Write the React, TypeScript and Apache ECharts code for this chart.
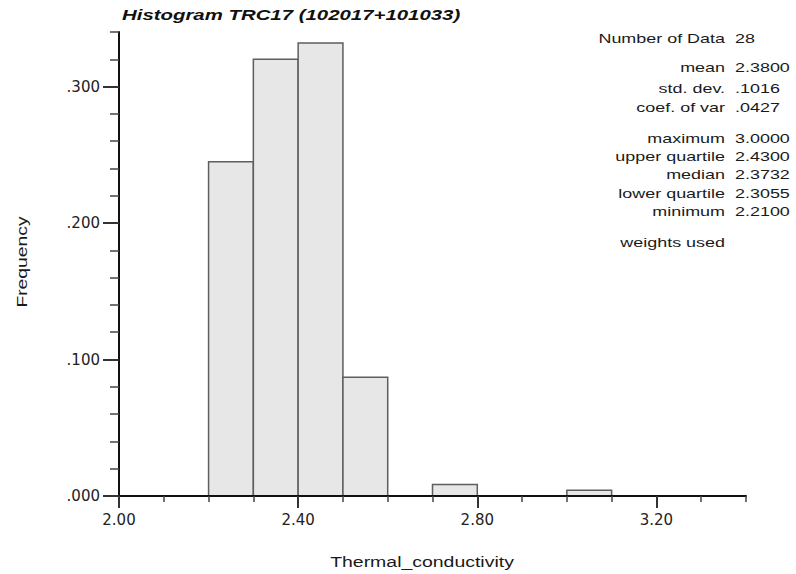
import { useEffect, useRef } from "react";
import * as echarts from "echarts";

// Histogram bins (class limits) and weighted frequencies
const binStarts = [2.2, 2.3, 2.4, 2.5, 2.7, 3.0];
const binEnds = [2.3, 2.4, 2.5, 2.6, 2.8, 3.1];
const frequencies = [0.245, 0.32, 0.332, 0.087, 0.0084, 0.0042];

// Axis ranges and tick steps
const xRange = [2.0, 3.4];
const xLabelRange = [2.0, 3.2];
const xMajorStep = 0.4;
const xMinorStep = 0.1;
const yRange = [0, 0.34];
const yLabelRange = [0, 0.3];
const yMajorStep = 0.1;
const yMinorStep = 0.02;

// Summary statistics
const statNames = [
  "Number of Data",
  "mean",
  "std. dev.",
  "coef. of var",
  "maximum",
  "upper quartile",
  "median",
  "lower quartile",
  "minimum",
];
const statValues = ["28", "2.3800", ".1016", ".0427", "3.0000", "2.4300", "2.3732", "2.3055", "2.2100"];
const weightNote = "weights used";

const titleText = "Histogram TRC17 (102017+101033)";
const xName = "Thermal_conductivity";
const yName = "Frequency";

const W = 796;
const H = 574;
const plotLeft = 119;
const plotRight = 746;
const plotTop = 32;
const plotBottom = 496;

const SANS = '"Liberation Sans", Arial, sans-serif';
const TICK_FONT = '"DejaVu Sans", sans-serif';
const WIDE = 1.38;

const statRowY = [38, 67, 88, 107, 138, 156, 174, 193, 211];
const weightRowY = 242;

export default function App() {
  const ref = useRef<HTMLDivElement>(null);

  useEffect(() => {
    if (!ref.current) return;
    const chart = echarts.init(ref.current, undefined, { renderer: "svg" });

    const plotW = plotRight - plotLeft;
    const plotH = plotBottom - plotTop;
    // second grid carries the labelled major ticks, sharing the same pixel scale
    const labelRight = plotLeft + ((xLabelRange[1] - xRange[0]) / (xRange[1] - xRange[0])) * plotW;
    const labelTop = plotBottom - ((yLabelRange[1] - yRange[0]) / (yRange[1] - yRange[0])) * plotH;

    const data = binStarts.map((s, i) => [s, binEnds[i], frequencies[i]]);

    const statText: any[] = [];
    statNames.forEach((name, i) => {
      statText.push({
        type: "text",
        x: 725,
        y: statRowY[i],
        scaleX: WIDE,
        style: {
          text: name,
          fill: "#1a1a1a",
          fontSize: 13,
          fontFamily: SANS,
          align: "right",
          verticalAlign: "middle",
        },
      });
      statText.push({
        type: "text",
        x: 735,
        y: statRowY[i],
        scaleX: WIDE,
        style: {
          text: statValues[i],
          fill: "#1a1a1a",
          fontSize: 13,
          fontFamily: SANS,
          align: "left",
          verticalAlign: "middle",
        },
      });
    });
    statText.push({
      type: "text",
      x: 725,
      y: weightRowY,
      scaleX: WIDE,
      style: {
        text: weightNote,
        fill: "#1a1a1a",
        fontSize: 13,
        fontFamily: SANS,
        align: "right",
        verticalAlign: "middle",
      },
    });

    const fmtY = (v: number) => v.toFixed(3).replace(/^0/, "");

    chart.setOption({
      animation: false,
      backgroundColor: "#ffffff",
      grid: [
        { left: plotLeft, right: W - plotRight, top: plotTop, bottom: H - plotBottom },
        { left: plotLeft, right: W - labelRight, top: labelTop, bottom: H - plotBottom },
      ],
      xAxis: [
        {
          type: "value",
          gridIndex: 0,
          min: xRange[0],
          max: xRange[1],
          interval: xMinorStep,
          z: 5,
          axisLine: { show: true, lineStyle: { color: "#111", width: 2 } },
          axisTick: { show: true, length: 6, lineStyle: { color: "#444", width: 1.5 } },
          axisLabel: { show: false },
          splitLine: { show: false },
        },
        {
          type: "value",
          gridIndex: 1,
          min: xLabelRange[0],
          max: xLabelRange[1],
          interval: xMajorStep,
          z: 5,
          axisLine: { show: false },
          axisTick: { show: true, length: 12, lineStyle: { color: "#333", width: 2 } },
          axisLabel: {
            show: true,
            margin: 16,
            color: "#222",
            fontSize: 15,
            fontFamily: TICK_FONT,
            formatter: (v: number) => v.toFixed(2),
          },
          splitLine: { show: false },
        },
      ],
      yAxis: [
        {
          type: "value",
          gridIndex: 0,
          min: yRange[0],
          max: yRange[1],
          interval: yMinorStep,
          z: 5,
          axisLine: { show: true, lineStyle: { color: "#111", width: 2 } },
          axisTick: { show: true, length: 9, lineStyle: { color: "#444", width: 1.5 } },
          axisLabel: { show: false },
          splitLine: { show: false },
        },
        {
          type: "value",
          gridIndex: 1,
          min: yLabelRange[0],
          max: yLabelRange[1],
          interval: yMajorStep,
          z: 5,
          axisLine: { show: false },
          axisTick: { show: true, length: 16, lineStyle: { color: "#333", width: 2 } },
          axisLabel: {
            show: true,
            margin: 19,
            color: "#222",
            fontSize: 15,
            fontFamily: TICK_FONT,
            formatter: fmtY,
          },
          splitLine: { show: false },
        },
      ],
      series: [
        {
          type: "custom",
          xAxisIndex: 0,
          yAxisIndex: 0,
          data,
          encode: { x: [0, 1], y: 2 },
          renderItem: (_params: any, api: any) => {
            const lo = api.value(0);
            const hi = api.value(1);
            const f = api.value(2);
            const p0 = api.coord([lo, f]);
            const p1 = api.coord([hi, 0]);
            return {
              type: "rect",
              shape: { x: p0[0], y: p0[1], width: p1[0] - p0[0], height: p1[1] - p0[1] },
              style: { fill: "#e7e7e7", stroke: "#5e5e5e", lineWidth: 1.5 },
            };
          },
        },
      ],
      graphic: [
        {
          type: "text",
          x: 122,
          y: 15,
          scaleX: 1.36,
          style: {
            text: titleText,
            fill: "#111",
            fontSize: 15,
            fontWeight: "bold",
            fontStyle: "italic",
            fontFamily: SANS,
            align: "left",
            verticalAlign: "middle",
          },
        },
        {
          type: "text",
          x: 422,
          y: 562,
          scaleX: 1.39,
          style: {
            text: xName,
            fill: "#1a1a1a",
            fontSize: 14,
            fontFamily: SANS,
            align: "center",
            verticalAlign: "middle",
          },
        },
        {
          type: "text",
          x: 22,
          y: 262,
          rotation: Math.PI / 2,
          scaleX: 1.38,
          style: {
            text: yName,
            fill: "#1a1a1a",
            fontSize: 14,
            fontFamily: SANS,
            align: "center",
            verticalAlign: "middle",
          },
        },
        ...statText,
      ],
    });

    return () => chart.dispose();
  }, []);

  return (
    <div
      ref={ref}
      style={{ position: "fixed", left: 0, top: 0, width: W, height: H, background: "#fff" }}
    />
  );
}
